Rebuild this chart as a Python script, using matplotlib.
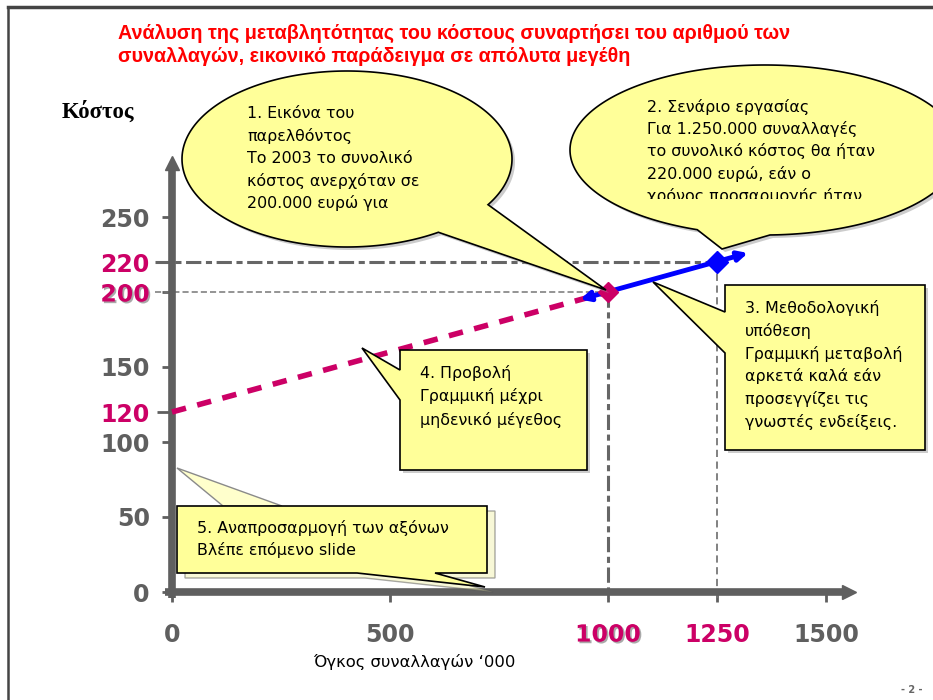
import numpy as np
import matplotlib
matplotlib.use('Agg')
import matplotlib.pyplot as plt
from matplotlib.patches import Polygon
from matplotlib.transforms import Bbox
import matplotlib.patheffects as pe

### Chart values (cost in '000 EUR vs volume in '000 transactions)
x_ticks = [0, 500, 1000, 1250, 1500]
y_ticks = [0, 50, 100, 120, 150, 200, 220, 250]
x_highlight = [1000, 1250]
y_highlight = [120, 200, 220]
proj_x = [0, 1000]          # projection down to zero volume
proj_y = [120, 200]
method_x = [936, 1321]      # linear assumption around the known point
method_y = [195, 226]
past_x, past_y = 1000, 200  # 2003 picture
scen_x, scen_y = 1250, 220  # scenario

GRAY = '#5f5f5f'
CRIMSON = '#cc0066'
YELLOW = '#ffff99'
TXT = 'DejaVu Sans'
TXT_SIZE = 11.4

W, H = 933, 700
fig = plt.figure(figsize=(W / 100, H / 100), dpi=100)

### Data axes: origin at pixel (172, 592), 1500 -> x=826, 250 -> y=217
ax = fig.add_axes([172 / W, (H - 592) / H, (826 - 172) / W, (592 - 217) / H])
ax.set_xlim(0, 1500)
ax.set_ylim(0, 250)
ax.patch.set_visible(False)
for s in ax.spines.values():
    s.set_visible(False)

# ticks and tick labels
ax.set_xticks(x_ticks)
ax.set_xticklabels([str(v) for v in x_ticks])
ax.set_yticks(y_ticks)
ax.set_yticklabels([str(v) for v in y_ticks])
ax.tick_params(axis='x', length=7, width=2, color=GRAY, pad=15, labelsize=17,
               labelcolor=GRAY)
ax.tick_params(axis='y', length=7, width=2, color=GRAY, pad=9, labelsize=17,
               labelcolor=GRAY)
shadow = [pe.withSimplePatchShadow(offset=(1.2, -1.2), shadow_rgbFace='#555',
                                   alpha=0.5)]
for v, lab in zip(x_ticks, ax.get_xticklabels()):
    lab.set_fontweight('bold')
    lab.set_fontfamily(TXT)
    if v in x_highlight:
        lab.set_color(CRIMSON)
    if v == 1000:
        lab.set_path_effects(shadow)
for v, lab, tk in zip(y_ticks, ax.get_yticklabels(), ax.yaxis.get_major_ticks()):
    lab.set_fontweight('bold')
    lab.set_fontfamily(TXT)
    if v in y_highlight:
        lab.set_color(CRIMSON)
    if v == 200:
        lab.set_path_effects(shadow)
    if v == 120:
        tk.tick1line.set_color(CRIMSON)
        tk.tick1line.set_markersize(11)

# helper lines to the scenario points
ax.plot([-39, scen_x], [scen_y, scen_y], color='#666666', lw=2.2,
        ls=(0, (5, 1.5, 2, 1.5)), clip_on=False, zorder=2)
ax.plot([-39, past_x], [past_y, past_y], color='#777777', lw=1.1,
        ls=(0, (4, 2)), clip_on=False, zorder=2)
ax.plot([past_x, past_x], [past_y, -4], color='#666666', lw=2.2,
        ls=(0, (5, 1.5, 2, 1.5)), clip_on=False, zorder=2)
ax.plot([scen_x, scen_x], [scen_y, -4], color='#777777', lw=1.3,
        ls=(0, (4, 2.5)), clip_on=False, zorder=2)

# axes drawn as thick arrows
ax.plot([0, 0], [-4, 284], color=GRAY, lw=5.5, solid_capstyle='butt',
        clip_on=False, zorder=3)
ax.plot([0], [286], marker='^', ms=10, color=GRAY, clip_on=False, zorder=3)
ax.plot([-16, 1545], [0, 0], color=GRAY, lw=5.5, solid_capstyle='butt',
        clip_on=False, zorder=3)
ax.plot([1552], [0], marker='>', ms=10, color=GRAY, clip_on=False, zorder=3)

# projection line and linear assumption
ax.plot(proj_x, proj_y, color=CRIMSON, lw=4, ls=(0, (2.6, 2.1)),
        clip_on=False, zorder=4)
ax.annotate('', xy=(method_x[1], method_y[1]), xytext=(method_x[0], method_y[0]),
            arrowprops=dict(arrowstyle='<|-|>', color='blue', lw=3.5,
                            mutation_scale=14, shrinkA=0, shrinkB=0),
            zorder=5)
ax.plot(past_x, past_y, marker='D', ms=10.5, color=CRIMSON, zorder=6)
ax.plot(scen_x, scen_y, marker='D', ms=11, color='blue', zorder=6)

### Overlay in pixel coordinates for slide decorations and callouts
ov = fig.add_axes([0, 0, 1, 1], zorder=5)
ov.set_xlim(0, W)
ov.set_ylim(H, 0)
ov.axis('off')
ov.patch.set_visible(False)

# slide frame
ov.plot([8, W], [7, 7], color='#444444', lw=2.5)
ov.plot([8, 8], [7, H], color='#444444', lw=1.8)


def draw_callout(verts, shadow_off=(3, 3), shadow_face='#9a9a9a',
                 shadow_edge='none'):
    verts = np.asarray(verts, dtype=float)
    ov.add_patch(Polygon(verts + np.array(shadow_off), closed=True,
                         facecolor=shadow_face, edgecolor=shadow_edge,
                         alpha=0.5, lw=1.0, zorder=1))
    ov.add_patch(Polygon(verts, closed=True, facecolor=YELLOW,
                         edgecolor='black', lw=1.2, zorder=2))


def ellipse_callout(cx, cy, a, b, base1, tip, base2):
    t1 = np.arctan2((base1[1] - cy) / b, (base1[0] - cx) / a)
    t2 = np.arctan2((base2[1] - cy) / b, (base2[0] - cx) / a)
    d = (t2 - t1) % (2 * np.pi)
    if d < np.pi:
        ts = np.linspace(t2, t1 + 2 * np.pi, 300)
    else:
        ts = np.linspace(t1, t2 + 2 * np.pi, 300)
    pts = np.column_stack([cx + a * np.cos(ts), cy + b * np.sin(ts)])
    return np.vstack([pts, [tip]])


def text_lines(x, y0, dy, lines, clip_bottom=None):
    for i, line in enumerate(lines):
        t = ov.text(x, y0 + i * dy, line, family=TXT, fontsize=TXT_SIZE,
                    va='center', ha='left', color='black', zorder=3,
                    clip_on=clip_bottom is not None)
        if clip_bottom is not None:
            # clip box in display pixels (origin bottom-left)
            t.set_clip_box(Bbox([[0, H - clip_bottom], [W, H]]))
            t.set_clip_path(None)


# 1. past picture
draw_callout(ellipse_callout(347, 159, 165, 88, (443, 236), (606, 290), (489, 205)))
text_lines(247, 113, 22.6, ['1. Εικόνα του', 'παρελθόντος', 'Το 2003 το συνολικό',
                            'κόστος ανερχόταν σε', '200.000 ευρώ για'])

# 2. scenario (last line cut off inside the bubble)
draw_callout(ellipse_callout(765, 150, 195, 85, (697, 230), (722, 249), (770, 235)))
text_lines(647, 107, 22.2, ['2. Σενάριο εργασίας', 'Για 1.250.000 συναλλαγές',
                            'το συνολικό κόστος θα ήταν', '220.000 ευρώ, εάν ο',
                            'χρόνος προσαρμογής ήταν'], clip_bottom=199)

# 3. methodological assumption
draw_callout([(725, 285), (925, 285), (925, 450), (725, 450), (725, 353),
              (653, 282), (725, 312)])
text_lines(745, 308, 22.8, ['3. Μεθοδολογική', 'υπόθεση', 'Γραμμική μεταβολή',
                            'αρκετά καλά εάν', 'προσεγγίζει τις',
                            'γνωστές ενδείξεις.'])

# 4. projection
draw_callout([(400, 350), (587, 350), (587, 470), (400, 470), (400, 400),
              (362, 348), (400, 370)])
text_lines(420, 373, 23.5, ['4. Προβολή', 'Γραμμική μέχρι', 'μηδενικό μέγεθος'])

# 5. axes rescale (with the faint shadow wedge next to the y axis)
ov.add_patch(Polygon([(177, 468), (282, 506), (223, 506)], closed=True,
                     facecolor='#ffffcc', edgecolor='#8a8a8a', lw=1.0, zorder=1))
draw_callout([(177, 506), (487, 506), (487, 573), (435, 573), (485, 587),
              (357, 573), (177, 573)], shadow_off=(8, 5),
             shadow_face='#f2f2b0', shadow_edge='#555555')
text_lines(197, 528, 22, ['5. Αναπροσαρμογή των αξόνων', 'Βλέπε επόμενο slide'])

### Titles and labels
ov.text(118, 33, 'Ανάλυση της μεταβλητότητας του κόστους συναρτήσει του αριθμού των',
        family='Liberation Sans', fontweight='bold', fontsize=14.2, color='#ff0000',
        va='center', ha='left')
ov.text(118, 57, 'συναλλαγών, εικονικό παράδειγμα σε απόλυτα μεγέθη',
        family='Liberation Sans', fontweight='bold', fontsize=14.2, color='#ff0000',
        va='center', ha='left')
ov.text(62, 112, 'Κόστος', family='Liberation Serif', fontweight='bold',
        fontsize=16.3, color='black', va='center', ha='left')
ov.text(313, 662, 'Όγκος συναλλαγών ‘000', family=TXT, fontsize=11.8,
        color='black', va='center', ha='left')
ov.text(912, 690, '- 2 -', family=TXT, fontsize=7, fontweight='bold',
        color='#666666', va='center', ha='center')

fig.savefig('out.png', dpi=100)
